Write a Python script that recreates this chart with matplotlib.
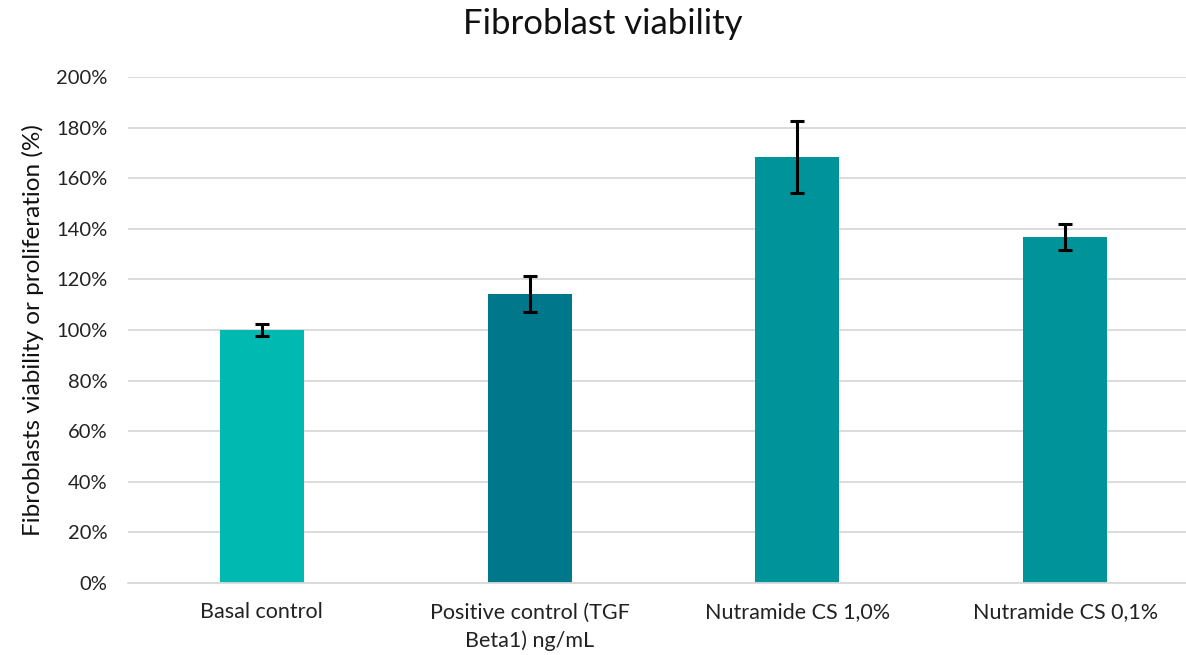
import matplotlib.pyplot as plt
import numpy as np

# Chart data
categories = ['Basal control', 'Positive control (TGF\nBeta1) ng/mL',
              'Nutramide CS 1,0%', 'Nutramide CS 0,1%']
viability = [100, 114.3, 168.3, 136.7]
errors = [2.3, 7.0, 14.2, 5.2]
colors = ['#00B9B1', '#00778A', '#00939A', '#00939A']
y_ticks = [0, 20, 40, 60, 80, 100, 120, 140, 160, 180, 200]

plt.rcParams['font.family'] = ['Lato', 'DejaVu Sans']

fig = plt.figure(figsize=(11.86, 6.55), dpi=100)
ax = fig.add_axes([128 / 1186, 1 - 583 / 655, (1199 - 128) / 1186, (583 - 77) / 655])

x = np.arange(len(categories))
ax.bar(x, viability, width=0.314, color=colors, zorder=2)
ax.errorbar(x, viability, yerr=errors, fmt='none', ecolor='black',
            elinewidth=2.2, capsize=5, capthick=2.2, zorder=3)

ax.set_xlim(-0.5, 3.5)
ax.set_ylim(0, 200)
ax.set_yticks(y_ticks)
ax.set_yticklabels([f'{t}%' for t in y_ticks], fontsize=14.5, color='#222222')
ax.set_xticks(x)
ax.set_xticklabels(categories, fontsize=15.5, color='#222222', linespacing=1.45)
ax.tick_params(axis='both', length=0)
ax.tick_params(axis='x', pad=14)
ax.tick_params(axis='y', pad=15)

ax.grid(axis='y', color='#d9d9d9', linewidth=1.3, zorder=0)
for s in ['top', 'right', 'left']:
    ax.spines[s].set_visible(False)
ax.spines['bottom'].set_color('#d9d9d9')
ax.spines['bottom'].set_linewidth(1.3)

# axis title and chart title placed like the original
fig.text(33 / 1186, 1 - 330 / 655, 'Fibroblasts viability or proliferation (%)',
         fontsize=17.5, rotation=90, ha='center', va='center', color='#111111')
fig.text(603 / 1186, 1 - 24 / 655, 'Fibroblast viability', fontsize=25,
         ha='center', va='center', color='#111111')

fig.savefig('out.png', dpi=100)
